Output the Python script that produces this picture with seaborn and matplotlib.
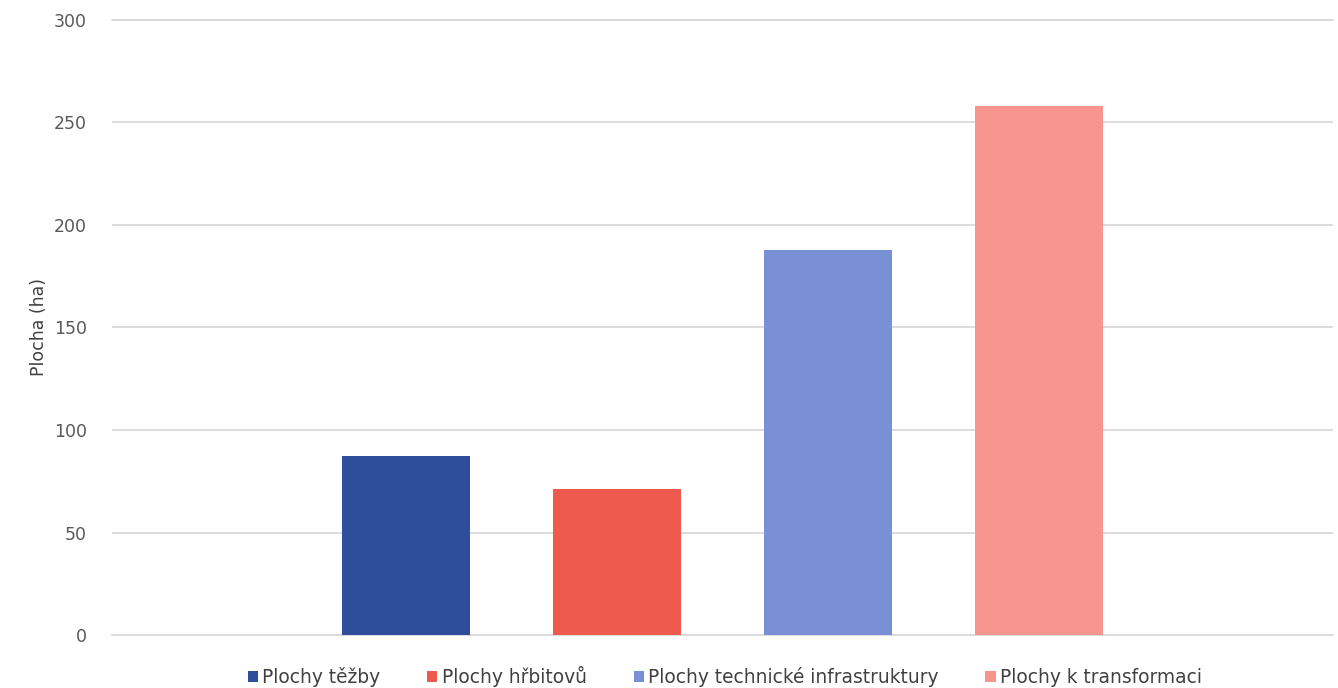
import pandas as pd
import seaborn as sns
import matplotlib.pyplot as plt

plt.switch_backend('Agg')

# Data
series = ['Plochy těžby', 'Plochy hřbitovů', 'Plochy technické infrastruktury', 'Plochy k transformaci']
values = [87.5, 71, 188, 258]
colors = ['#2E4D9B', '#EE5A4E', '#7990D6', '#F5958E']
y_ticks = [0, 50, 100, 150, 200, 250, 300]

df = pd.DataFrame({'cat': [''] * len(series), 'series': series, 'value': values})

sns.set_theme(style='white')
plt.rcParams['font.family'] = ['DejaVu Sans']

fig = plt.figure(figsize=(13.38, 6.88), dpi=100)
ax = fig.add_axes([0.0837, 0.077, 0.9126, 0.894])

sns.barplot(data=df, x='cat', y='value', hue='series', palette=colors,
            gap=0.39, ax=ax, legend=True, saturation=1, linewidth=0)

ax.set_xlim(-0.5787, 0.5787)
ax.set_ylim(0, 300)
ax.set_yticks(y_ticks)
ax.set_yticklabels([str(t) for t in y_ticks], color='#595959', fontsize=12.5)
ax.tick_params(axis='y', length=0, pad=18)
ax.set_xticks([])
ax.set_xlabel('')
ax.set_ylabel('Plocha (ha)', fontsize=12.5, color='#404040', labelpad=4)
ax.yaxis.grid(True, color='#D9D9D9', linewidth=1.3)
# edge gridlines get clipped in half, redraw them unclipped
for yv in (y_ticks[0], y_ticks[-1]):
    ax.axhline(yv, color='#D9D9D9', linewidth=1.3, clip_on=False, zorder=0.5)
ax.set_axisbelow(True)
for s in ax.spines.values():
    s.set_visible(False)

leg = ax.legend(loc='center', bbox_to_anchor=(0.502, -0.067), ncol=4, frameon=False,
                fontsize=13.4, handlelength=0.55, handleheight=0.55,
                handletextpad=0.25, columnspacing=2.5)
for t in leg.get_texts():
    t.set_color('#404040')

fig.savefig('out.png', dpi=100)
plt.close()
